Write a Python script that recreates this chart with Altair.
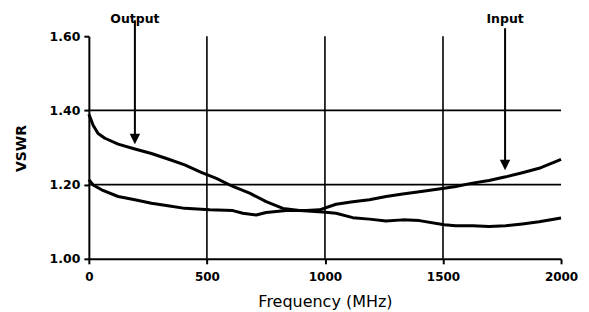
import altair as alt
import pandas as pd

# ---- data ----
out_freq = [0, 18, 39, 68, 124, 195, 265, 335, 406, 476, 540, 610, 681, 751, 822, 892, 991,
            1047, 1118, 1188, 1259, 1329, 1400, 1505, 1554, 1625, 1695, 1766, 1836, 1907, 2000]
out_vswr = [1.39, 1.360, 1.338, 1.325, 1.309, 1.296, 1.284, 1.269, 1.253, 1.233, 1.217, 1.195, 1.177,
            1.154, 1.136, 1.130, 1.126, 1.123, 1.111, 1.107, 1.102, 1.105, 1.103, 1.092, 1.089,
            1.089, 1.087, 1.089, 1.094, 1.100, 1.110]

in_freq = [0, 18, 54, 124, 195, 265, 335, 406, 512, 610, 652, 709, 751, 836, 920, 977,
           1047, 1118, 1188, 1259, 1329, 1400, 1505, 1554, 1625, 1695, 1766, 1836, 1907, 1977, 2000]
in_vswr = [1.213, 1.199, 1.186, 1.168, 1.159, 1.150, 1.143, 1.136, 1.132, 1.130, 1.123, 1.118,
           1.125, 1.130, 1.130, 1.132, 1.147, 1.154, 1.159, 1.168, 1.175, 1.181, 1.190, 1.195,
           1.204, 1.211, 1.221, 1.232, 1.244, 1.262, 1.268]

x_ticks = [0, 500, 1000, 1500, 2000]
y_ticks = [1.0, 1.2, 1.4, 1.6]
x_grid = [500, 1000, 1500]
y_grid = [1.2, 1.4]

annot_labels = ["Output", "Input"]
annot_freq = [195, 1763]
annot_label_vswr = [1.646, 1.646]
arrow_top = [1.643, 1.6215]
arrow_head = [1.323, 1.253]

# ---- tables ----
curves = pd.concat([
    pd.DataFrame({"freq": out_freq, "vswr": out_vswr, "series": "Output"}),
    pd.DataFrame({"freq": in_freq, "vswr": in_vswr, "series": "Input"}),
])
vgrid = pd.DataFrame({"freq": x_grid, "vswr": [1.0] * len(x_grid), "y1": [1.6] * len(x_grid)})
hgrid = pd.DataFrame({"vswr": y_grid, "freq": [0] * len(y_grid), "x1": [2000] * len(y_grid)})
annot = pd.DataFrame({"label": annot_labels, "freq": annot_freq, "ly": annot_label_vswr,
                      "vswr": arrow_top, "head": arrow_head})

xscale = alt.Scale(domain=[0, 2000], nice=False, zero=False)
yscale = alt.Scale(domain=[1.0, 1.6], nice=False, zero=False)

FONT = "DejaVu Sans"

x_axis = alt.Axis(values=x_ticks, grid=False, format="d", labelFlush=False, tickSize=5,
                  tickWidth=2, tickColor="black", domainColor="black", domainWidth=2,
                  labelFont=FONT, labelFontSize=12, labelFontWeight="bold", labelColor="black",
                  labelPadding=8, title="Frequency (MHz)", titleFont=FONT, titleFontSize=16,
                  titleFontWeight="normal", titleColor="black", titleX=236.5, titleY=43,
                  titleBaseline="middle", titleAlign="center")
y_axis = alt.Axis(values=y_ticks, grid=False, format=".2f", labelFlush=False, tickSize=5,
                  tickWidth=2, tickColor="black", domainColor="black", domainWidth=2,
                  labelFont=FONT, labelFontSize=12.5, labelFontWeight="bold", labelColor="black",
                  labelPadding=4, title="VSWR", titleFont=FONT, titleFontSize=14,
                  titleFontWeight="bold", titleColor="black", titleX=-67, titleY=112,
                  titleAngle=-90, titleBaseline="middle", titleAlign="center")

X = alt.X("freq:Q", scale=xscale, axis=x_axis)
Y = alt.Y("vswr:Q", scale=yscale, axis=y_axis)

vrules = alt.Chart(vgrid).mark_rule(color="black", strokeWidth=1.6).encode(
    x=X, y=Y, y2="y1:Q",
)
hrules = alt.Chart(hgrid).mark_rule(color="black", strokeWidth=1.6).encode(
    y=Y, x=X, x2="x1:Q",
)
lines = alt.Chart(curves).mark_line(color="black", strokeWidth=3, strokeJoin="round").encode(
    x=X, y=Y, detail="series:N", order="freq:Q",
)
arrows = alt.Chart(annot).mark_rule(color="black", strokeWidth=2).encode(
    x=X, y=Y, y2="head:Q",
)
heads = alt.Chart(annot).mark_point(
    shape="M-1,-1L1,-1L0,1Z", filled=True, color="black", opacity=1, size=110
).encode(
    x=X, y=alt.Y("head:Q", scale=yscale, axis=y_axis),
)
labels = alt.Chart(annot).mark_text(font=FONT, fontSize=12.5, fontWeight="bold", color="black",
                                    baseline="middle", align="center").encode(
    x=X, y=alt.Y("ly:Q", scale=yscale, axis=y_axis), text="label:N",
)

chart = alt.layer(vrules, hrules, lines, arrows, heads, labels).properties(
    width=473, height=223,
    padding={"left": 81, "top": 28, "right": 20, "bottom": 52},
    autosize=alt.AutoSizeParams(type="none"),
    background="white",
).configure_view(stroke=None)

chart.save("out.html", embed_options={"renderer": "svg", "actions": False})
